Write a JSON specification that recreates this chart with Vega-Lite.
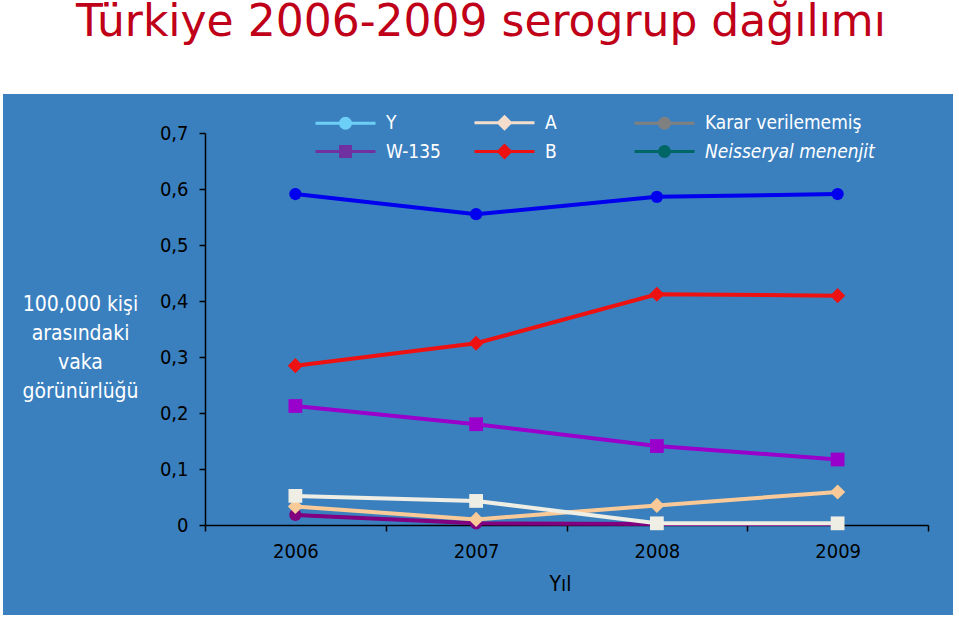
{
  "$schema": "https://vega.github.io/schema/vega-lite/v6.json",
  "width": 950,
  "height": 521,
  "autosize": {"type": "none"},
  "padding": {"left": 3, "top": 94, "right": 6, "bottom": 4},
  "background": "white",
  "title": {
    "text": "Türkiye 2006-2009 serogrup dağılımı",
    "font": "DejaVu Sans",
    "fontSize": 44,
    "fontWeight": "normal",
    "color": "#C00018",
    "anchor": "middle",
    "frame": "group",
    "baseline": "alphabetic",
    "offset": 14,
    "dx": 3
  },
  "config": {
    "view": {"fill": "#3A80BF", "stroke": null},
    "font": "DejaVu Sans Condensed, Liberation Sans, sans-serif"
  },
  "data": {
    "values": [
      {"year": "2006", "series": "Y", "value": 0.018},
      {"year": "2007", "series": "Y", "value": 0.003},
      {"year": "2008", "series": "Y", "value": 0.002},
      {"year": "2009", "series": "Y", "value": 0.002},
      {"year": "2006", "series": "A", "value": 0.033},
      {"year": "2007", "series": "A", "value": 0.010},
      {"year": "2008", "series": "A", "value": 0.035},
      {"year": "2009", "series": "A", "value": 0.059},
      {"year": "2006", "series": "Karar verilememiş", "value": 0.052},
      {"year": "2007", "series": "Karar verilememiş", "value": 0.043},
      {"year": "2008", "series": "Karar verilememiş", "value": 0.003},
      {"year": "2009", "series": "Karar verilememiş", "value": 0.003},
      {"year": "2006", "series": "W-135", "value": 0.2125},
      {"year": "2007", "series": "W-135", "value": 0.180},
      {"year": "2008", "series": "W-135", "value": 0.141},
      {"year": "2009", "series": "W-135", "value": 0.117},
      {"year": "2006", "series": "B", "value": 0.2845},
      {"year": "2007", "series": "B", "value": 0.3245},
      {"year": "2008", "series": "B", "value": 0.412},
      {"year": "2009", "series": "B", "value": 0.4095},
      {"year": "2006", "series": "Neisseryal menenjit", "value": 0.591},
      {"year": "2007", "series": "Neisseryal menenjit", "value": 0.555},
      {"year": "2008", "series": "Neisseryal menenjit", "value": 0.586},
      {"year": "2009", "series": "Neisseryal menenjit", "value": 0.591}
    ]
  },
  "encoding": {
    "x": {
      "field": "year",
      "type": "ordinal",
      "scale": {"range": [202, 925], "paddingInner": 0, "paddingOuter": 0},
      "axis": {
        "title": "Yıl",
        "labelAngle": 0,
        "tickBand": "extent",
        "offset": -90,
        "grid": false,
        "domainColor": "black",
        "domainWidth": 1.5,
        "tickColor": "black",
        "tickWidth": 1.5,
        "tickSize": 6,
        "labelFontSize": 20,
        "labelColor": "black",
        "labelBaseline": "alphabetic",
        "labelPadding": 26,
        "titleFontSize": 21,
        "titleFontWeight": "normal",
        "titleColor": "black",
        "titleX": 557,
        "titleY": 65,
        "titleBaseline": "alphabetic",
        "titleAlign": "center"
      }
    },
    "y": {
      "field": "value",
      "type": "quantitative",
      "scale": {"domain": [0, 0.7], "range": [431, 39], "nice": false, "zero": false},
      "axis": {
        "title": ["100,000 kişi", "arasındaki", "vaka", "görünürlüğü"],
        "values": [0, 0.1, 0.2, 0.3, 0.4, 0.5, 0.6, 0.7],
        "labelExpr": "datum.value == 0 ? '0' : replace(format(datum.value, '.1f'), '.', ',')",
        "offset": -202,
        "grid": false,
        "domainColor": "black",
        "domainWidth": 1.5,
        "tickColor": "black",
        "tickWidth": 1.5,
        "tickSize": 6,
        "labelFontSize": 20,
        "labelColor": "black",
        "labelPadding": 11,
        "titleAngle": 0,
        "titleAlign": "center",
        "titleBaseline": "alphabetic",
        "titleX": -125,
        "titleY": 216,
        "titleLineHeight": 29,
        "titleFontSize": 21,
        "titleFontWeight": "normal",
        "titleColor": "white"
      }
    }
  },
  "layer": [
    {
      "mark": {"type": "point", "filled": false, "opacity": 0},
      "encoding": {
        "color": {
          "field": "series",
          "type": "nominal",
          "scale": {
            "domain": ["Y", "A", "Karar verilememiş", "W-135", "B", "Neisseryal menenjit"],
            "range": ["#6DCFF6", "#F4DDCC", "#808080", "#7030A0", "#EE1111", "#006666"]
          },
          "legend": {
            "orient": "none",
            "legendX": 331,
            "legendY": 17,
            "columns": 3,
            "direction": "horizontal",
            "title": null,
            "padding": 0,
            "columnPadding": 27,
            "rowPadding": 4,
            "symbolSize": 400,
            "symbolStrokeWidth": 3,
            "symbolOpacity": 1,
            "labelOffset": 29,
            "labelFontSize": 19,
            "labelColor": "white",
            "labelLimit": 300,
            "labelFontStyle": {"expr": "datum.value === 'Neisseryal menenjit' ? 'italic' : 'normal'"},
            "labelExpr": "(datum.label === 'A' || datum.label === 'B') ? datum.label + '\u00a0\u00a0\u00a0\u00a0\u00a0\u00a0\u00a0\u00a0\u200b' : datum.label"
          }
        },
        "shape": {
          "field": "series",
          "type": "nominal",
          "scale": {
            "domain": ["Y", "A", "Karar verilememiş", "W-135", "B", "Neisseryal menenjit"],
            "range": [
              "M-3,0H3M0.5,0A0.5,0.5,0,1,1,-0.5,0A0.5,0.5,0,1,1,0.5,0M0.3,0A0.3,0.3,0,1,1,-0.3,0A0.3,0.3,0,1,1,0.3,0M0.1,0A0.1,0.1,0,1,1,-0.1,0A0.1,0.1,0,1,1,0.1,0",
              "M-3,0H3M0,-0.6L0.6,0L0,0.6L-0.6,0ZM0,-0.35L0.35,0L0,0.35L-0.35,0ZM0,-0.1L0.1,0L0,0.1L-0.1,0Z",
              "M-3,0H3M0.5,0A0.5,0.5,0,1,1,-0.5,0A0.5,0.5,0,1,1,0.5,0M0.3,0A0.3,0.3,0,1,1,-0.3,0A0.3,0.3,0,1,1,0.3,0M0.1,0A0.1,0.1,0,1,1,-0.1,0A0.1,0.1,0,1,1,0.1,0",
              "M-3,0H3M-0.5,-0.5H0.5V0.5H-0.5ZM-0.3,-0.3H0.3V0.3H-0.3ZM-0.1,-0.1H0.1V0.1H-0.1Z",
              "M-3,0H3M0,-0.6L0.6,0L0,0.6L-0.6,0ZM0,-0.35L0.35,0L0,0.35L-0.35,0ZM0,-0.1L0.1,0L0,0.1L-0.1,0Z",
              "M-3,0H3M0.5,0A0.5,0.5,0,1,1,-0.5,0A0.5,0.5,0,1,1,0.5,0M0.3,0A0.3,0.3,0,1,1,-0.3,0A0.3,0.3,0,1,1,0.3,0M0.1,0A0.1,0.1,0,1,1,-0.1,0A0.1,0.1,0,1,1,0.1,0"
            ]
          }
        }
      }
    },
    {
      "mark": {"type": "line", "strokeWidth": 4},
      "encoding": {
        "stroke": {
          "field": "series",
          "type": "nominal",
          "scale": {
            "domain": ["Y", "A", "Karar verilememiş", "W-135", "B", "Neisseryal menenjit"],
            "range": ["#800080", "#F9CA98", "#EEEEE4", "#9900CC", "#EE1111", "#0000EE"]
          },
          "legend": null
        }
      }
    },
    {
      "transform": [{"filter": {"field": "series", "oneOf": ["Y", "Neisseryal menenjit"]}}],
      "mark": {"type": "point", "shape": "circle", "filled": true, "opacity": 1, "size": 150},
      "encoding": {
        "fill": {
          "field": "series",
          "type": "nominal",
          "scale": {
            "domain": ["Y", "A", "Karar verilememiş", "W-135", "B", "Neisseryal menenjit"],
            "range": ["#800080", "#F9CA98", "#EEEEE4", "#9900CC", "#EE1111", "#0000EE"]
          },
          "legend": null
        }
      }
    },
    {
      "transform": [{"filter": {"field": "series", "oneOf": ["A", "B"]}}],
      "mark": {"type": "point", "shape": "diamond", "filled": true, "opacity": 1, "size": 230},
      "encoding": {
        "fill": {"field": "series", "type": "nominal", "legend": null}
      }
    },
    {
      "transform": [{"filter": {"field": "series", "oneOf": ["Karar verilememiş", "W-135"]}}],
      "mark": {"type": "point", "shape": "square", "filled": true, "opacity": 1, "size": 190},
      "encoding": {
        "fill": {"field": "series", "type": "nominal", "legend": null}
      }
    }
  ]
}
